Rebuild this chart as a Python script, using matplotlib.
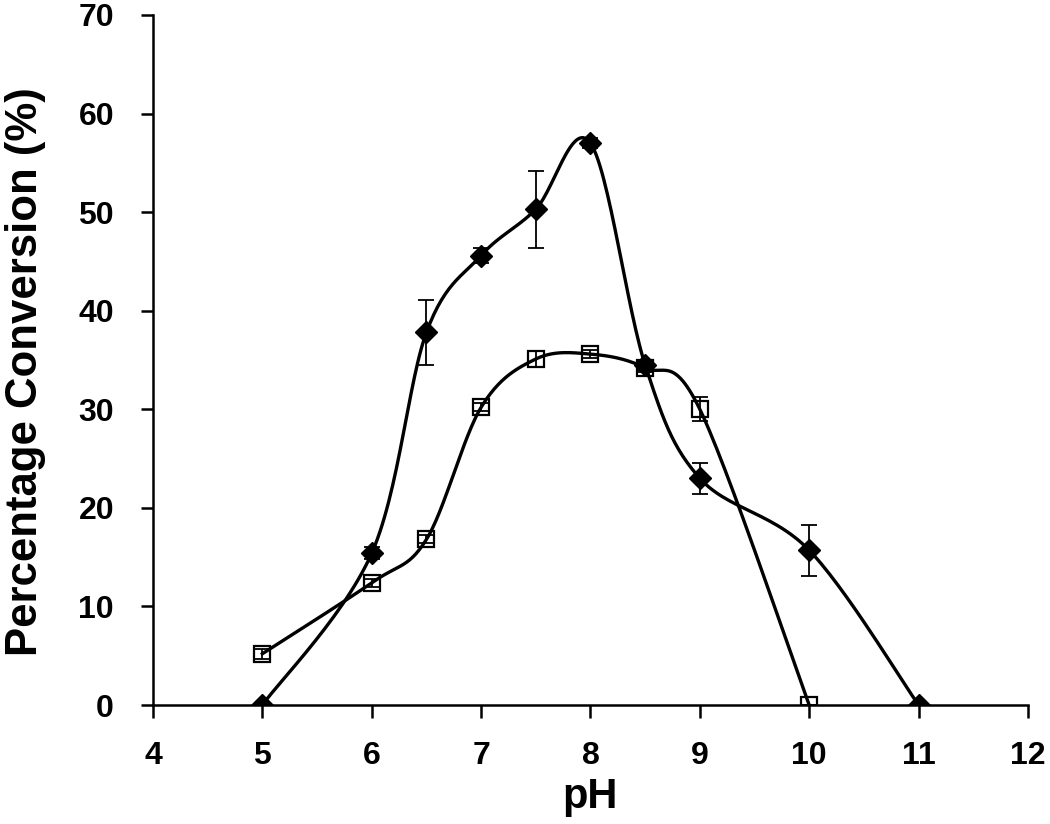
import numpy as np
import matplotlib
matplotlib.use("Agg")
import matplotlib.pyplot as plt

plt.rcParams['font.family'] = ['Liberation Sans', 'DejaVu Sans']
plt.rcParams['font.weight'] = 'bold'

# data
ph_a = [5, 6, 6.5, 7, 7.5, 8, 8.5, 9, 10, 11]
conv_a = [0, 15.4, 37.8, 45.6, 50.3, 57.0, 34.5, 23.0, 15.7, 0]
err_a = [0, 0.6, 3.3, 0.8, 3.9, 0.5, 0.5, 1.6, 2.6, 0]

ph_b = [5, 6, 6.5, 7, 7.5, 8, 8.5, 9, 10]
conv_b = [5.2, 12.4, 16.8, 30.2, 35.1, 35.6, 34.2, 30.0, 0]
err_b = [0.5, 0.4, 0.4, 0.4, 0.8, 0.4, 0.4, 1.2, 0]


def smooth(x, y, n=30):
    # Catmull-Rom style bezier, like spreadsheet smoothed lines
    x = np.asarray(x, float)
    y = np.asarray(y, float)
    P = np.column_stack([x, y])
    out = [P[0]]
    for i in range(len(P) - 1):
        p0 = P[i - 1] if i > 0 else P[i]
        p1 = P[i]
        p2 = P[i + 1]
        p3 = P[i + 2] if i + 2 < len(P) else P[i + 1]
        c1 = p1 + (p2 - p0) / 6
        c2 = p2 - (p3 - p1) / 6
        t = np.linspace(0, 1, n)[1:, None]
        seg = ((1 - t) ** 3) * p1 + 3 * ((1 - t) ** 2) * t * c1 + 3 * (1 - t) * t ** 2 * c2 + t ** 3 * p2
        out.extend(seg)
    out = np.array(out)
    return out[:, 0], out[:, 1]


fig = plt.figure(figsize=(10.5, 8.24), dpi=100)
ax = fig.add_axes([0.1457, 0.1444, 0.8333, 0.8374])

# markers go underneath, lines and error bars on top (as in the original)
ax.plot(ph_b, conv_b, ls='none', marker='s', ms=12, mfc='white', mec='black', mew=1.6, zorder=2)
ax.plot(ph_a, conv_a, ls='none', marker='D', ms=11, mfc='black', mec='black', zorder=2)

sx, sy = smooth(ph_b, conv_b)
ax.plot(sx, sy, color='black', lw=2.4, zorder=3)
ax.errorbar(ph_b, conv_b, yerr=err_b, fmt='none', ecolor='black', elinewidth=1.3, capsize=5.5, capthick=1.3, zorder=4)

sx, sy = smooth(ph_a, conv_a)
ax.plot(sx, sy, color='black', lw=2.4, zorder=3)
ax.errorbar(ph_a, conv_a, yerr=err_a, fmt='none', ecolor='black', elinewidth=1.3, capsize=5.5, capthick=1.3, zorder=4)

ax.set_xlim(4, 12)
ax.set_ylim(0, 70)
ax.set_xticks(range(4, 13))
ax.set_yticks(range(0, 71, 10))
ax.spines['top'].set_visible(False)
ax.spines['right'].set_visible(False)
ax.spines['left'].set_linewidth(1.8)
ax.spines['bottom'].set_linewidth(1.8)
ax.tick_params(direction='out', length=9, width=1.8, labelsize=23)
ax.tick_params(axis='x', pad=17)
ax.tick_params(axis='y', pad=19)
for lab in ax.get_xticklabels() + ax.get_yticklabels():
    lab.set_fontweight('bold')

ax.set_xlabel('pH', fontsize=30, fontweight='bold', labelpad=4)
ax.set_ylabel('Percentage Conversion (%)', fontsize=31.5, fontweight='bold')
ax.yaxis.set_label_coords(-0.122, 0.483)

fig.savefig('out.png', dpi=100)
